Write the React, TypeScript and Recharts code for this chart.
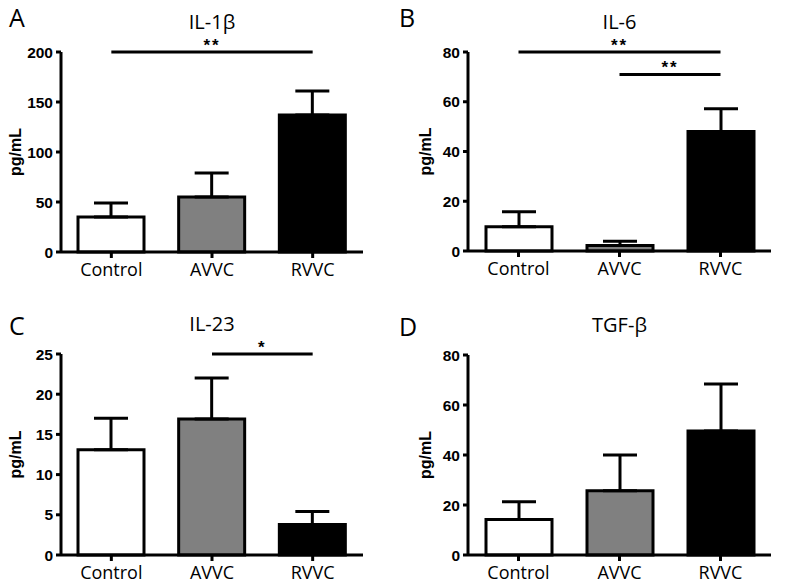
import React from 'react';
import { BarChart, Bar, Cell, XAxis, YAxis, ErrorBar, ReferenceLine } from 'recharts';

const categories = ['Control', 'AVVC', 'RVVC'];
const barColors = ['#ffffff', '#808080', '#000000'];

const il1bMean = [35, 55, 137];
const il1bErr = [14, 24, 24];
const il6Mean = [9.7, 2.2, 48];
const il6Err = [6.1, 1.7, 9.2];
const il23Mean = [13.1, 16.9, 3.8];
const il23Err = [3.9, 5.1, 1.6];
const tgfbMean = [14.2, 25.7, 49.6];
const tgfbErr = [7.1, 14.3, 18.8];

const il1bTicks = [0, 50, 100, 150, 200];
const il6Ticks = [0, 20, 40, 60, 80];
const il23Ticks = [0, 5, 10, 15, 20, 25];
const tgfbTicks = [0, 20, 40, 60, 80];

// significance bars: [from, to, y, stars]
const il1bSig: [string, string, number, string][] = [['Control', 'RVVC', 200, '**']];
const il6Sig: [string, string, number, string][] = [
  ['Control', 'RVVC', 80, '**'],
  ['AVVC', 'RVVC', 71, '**'],
];
const il23Sig: [string, string, number, string][] = [['AVVC', 'RVVC', 25, '*']];
const tgfbSig: [string, string, number, string][] = [];

const numFont = '"Liberation Sans", Arial, sans-serif';
const textFont = '"Open Sans", "Noto Sans", sans-serif';

function buildData(means: number[], errs: number[]) {
  return categories.map((c, i) => ({ name: c, value: means[i], err: [0, errs[i]] }));
}

interface PanelProps {
  letter: string;
  title: string;
  means: number[];
  errs: number[];
  ticks: number[];
  sig: [string, string, number, string][];
  left: number;
  top: number;
  width: number;
  height: number;
  yWidth: number;
  labelX: number;
  letterTop: number;
  mTop: number;
  mRight: number;
  mBottom: number;
}

function Panel(p: PanelProps) {
  const data = buildData(p.means, p.errs);
  const plotLeft = p.yWidth;
  const plotRight = p.width - p.mRight;
  return (
    <div style={{ position: 'absolute', left: p.left, top: p.top, width: p.width, height: p.height }}>
      <div
        style={{
          position: 'absolute',
          left: 9,
          top: p.letterTop,
          fontFamily: textFont,
          fontSize: 25,
          lineHeight: '34px',
          color: '#000',
        }}
      >
        {p.letter}
      </div>
      <div
        style={{
          position: 'absolute',
          left: plotLeft,
          width: plotRight - plotLeft,
          top: p.mTop - 43,
          textAlign: 'center',
          fontFamily: textFont,
          fontSize: 20,
          lineHeight: '26px',
          color: '#000',
        }}
      >
        {p.title}
      </div>
      <BarChart
        width={p.width}
        height={p.height}
        data={data}
        margin={{ top: p.mTop, right: p.mRight, bottom: p.mBottom, left: 0 }}
        barSize={66}
      >
        <XAxis
          dataKey="name"
          height={30}
          axisLine={{ stroke: '#000', strokeWidth: 3 }}
          tickLine={{ stroke: '#000', strokeWidth: 3 }}
          tickSize={6}
          tickMargin={5}
          tick={{ fill: '#000', fontSize: 18, fontFamily: textFont }}
        />
        <YAxis
          width={p.yWidth}
          domain={[p.ticks[0], p.ticks[p.ticks.length - 1]]}
          ticks={p.ticks}
          interval={0}
          axisLine={{ stroke: '#000', strokeWidth: 3 }}
          tickLine={{ stroke: '#000', strokeWidth: 3 }}
          tickSize={5}
          tickMargin={3}
          tick={{ fill: '#000', fontSize: 15.5, fontWeight: 'bold', fontFamily: numFont }}
          label={{
            value: 'pg/mL',
            angle: -90,
            position: 'center',
            dx: p.labelX - p.yWidth / 2,
            style: { fill: '#000', fontSize: 16, fontWeight: 'bold', fontFamily: numFont },
          }}
        />
        <Bar dataKey="value" stroke="#000" strokeWidth={3} isAnimationActive={false}>
          {data.map((d, i) => (
            <Cell key={d.name} fill={barColors[i]} />
          ))}
          <ErrorBar dataKey="err" direction="y" width={17} stroke="#000" strokeWidth={3} isAnimationActive={false} />
        </Bar>
        {p.sig.map(([a, b, y, stars]) => (
          <ReferenceLine
            key={a + b + y}
            segment={[
              { x: a, y },
              { x: b, y },
            ]}
            stroke="#000"
            strokeWidth={3}
            ifOverflow="visible"
            label={{
              value: stars,
              position: 'top',
              offset: 1,
              style: { fill: '#000', fontSize: 17, fontWeight: 'bold', fontFamily: numFont, letterSpacing: 2 },
            }}
          />
        ))}
      </BarChart>
    </div>
  );
}

export default function App() {
  return (
    <div style={{ position: 'absolute', left: 0, top: 0, width: 787, height: 585, background: '#fff' }}>
      <Panel letter="A" title="IL-1β" means={il1bMean} errs={il1bErr} ticks={il1bTicks} sig={il1bSig}
        left={0} top={0} width={380} height={290} yWidth={61} labelX={15} letterTop={0} mTop={52} mRight={17} mBottom={8} />
      <Panel letter="B" title="IL-6" means={il6Mean} errs={il6Err} ticks={il6Ticks} sig={il6Sig}
        left={390} top={0} width={397} height={290} yWidth={78} labelX={35} letterTop={0} mTop={52} mRight={16} mBottom={9} />
      <Panel letter="C" title="IL-23" means={il23Mean} errs={il23Err} ticks={il23Ticks} sig={il23Sig}
        left={0} top={290} width={380} height={295} yWidth={61} labelX={15} letterTop={18} mTop={64} mRight={17} mBottom={0} />
      <Panel letter="D" title="TGF-β" means={tgfbMean} errs={tgfbErr} ticks={tgfbTicks} sig={tgfbSig}
        left={390} top={290} width={397} height={295} yWidth={78} labelX={35} letterTop={19} mTop={65} mRight={16} mBottom={0} />
    </div>
  );
}
